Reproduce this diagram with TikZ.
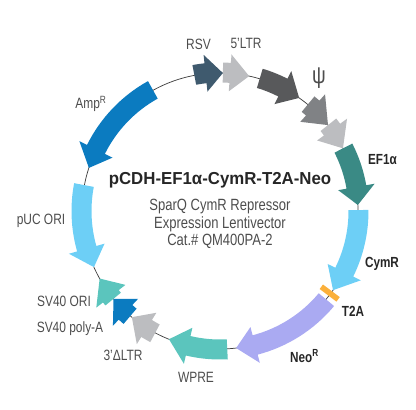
\documentclass[tikz,border=0pt]{standalone}
\usepackage{fontspec}
\setmainfont[FakeStretch=0.8]{Liberation Sans}
\newfontfamily\titlefont[FakeStretch=0.97]{Liberation Sans}
\usetikzlibrary{positioning}

\definecolor{rsvblue}{HTML}{3F5A6E}
\definecolor{ltrgrey}{HTML}{BCBDC0}
\definecolor{psigrey}{HTML}{58595B}
\definecolor{midgrey}{HTML}{808285}
\definecolor{efteal}{HTML}{3A8A85}
\definecolor{skyblue}{HTML}{6DCFF6}
\definecolor{tagorange}{HTML}{FBB03B}
\definecolor{neoviolet}{HTML}{AAAAF2}
\definecolor{aqua}{HTML}{5BC5BD}
\definecolor{deepblue}{HTML}{0B7BC0}
\definecolor{labelgrey}{HTML}{4D4D4D}

% tail angle, angle of head base, tip angle, colour
\newcommand{\featarrow}[4]{%
  \fill[#4] (#1:148.5) arc[start angle=#1, end angle=#2, radius=148.5]
    -- (#2:157) -- (#3:138) -- (#2:120) -- (#2:128.5)
    arc[start angle=#2, end angle=#1, radius=128.5] -- cycle;
}

\begin{document}
\begin{tikzpicture}[
  x=0.75pt, y=0.75pt,
  lab/.style={text=labelgrey, font=\fontsize{11.2}{13}\selectfont, inner sep=0pt},
  blab/.style={text=black!85, font=\fontsize{11}{13}\selectfont\bfseries, inner sep=0pt},
  sub/.style={text=labelgrey, font=\fontsize{12.2}{14}\selectfont, inner sep=0pt}
]
\useasboundingbox (-220,-198) rectangle (196,211);

% backbone
\draw[black!75, line width=0.55pt] (0,0) circle[radius=138];

% features, clockwise from RSV
\featarrow{100.7}{96}{88.8}{rsvblue}
\featarrow{88.8}{85.8}{77.8}{ltrgrey}
\featarrow{73.3}{63}{55}{psigrey}
\featarrow{50.5}{48}{38.5}{midgrey}
\featarrow{38.5}{36}{27}{ltrgrey}
\featarrow{27}{10}{2.5}{efteal}
\featarrow{0.4}{-26.2}{-35}{skyblue}
\featarrow{-39.8}{-75.3}{-83.3}{neoviolet}
\featarrow{-87}{-103.3}{-111.7}{aqua}
\featarrow{-118}{-122}{-129.7}{ltrgrey}
\featarrow{-140.5}{-142}{-150.7}{aqua}
\featarrow{-130.5}{-133}{-140.5}{deepblue}
\featarrow{-190.8}{-164.2}{-156}{skyblue}
\featarrow{119}{153.6}{161.8}{deepblue}
\draw[tagorange, line width=4.2pt] (-36.8:126.5) -- (-36.8:147.5);

% labels
\node[blab, font=\fontsize{13}{16}\titlefont\bfseries] (title) at (0,31) {pCDH-EF1α-CymR-T2A-Neo};
\node[sub] (line1) at (0,4) {SparQ CymR Repressor};
\node[sub] (line2) at (0,-13) {Expression Lentivector};
\node[sub] (line3) at (0,-30) {Cat.\# QM400PA-2};

\node[lab] (rsv) at (-21.5,167) {RSV};
\node[lab] (ltrfive) at (26,168) {5'LTR};
\node[lab, font=\fontsize{18}{20}\selectfont] (psi) at (99,133) {ψ};
\node[blab] (ef) at (162.5,51) {EF1α};
\node[blab] (cymr) at (162,-53) {CymR};
\node[blab] (tag) at (133,-100) {T2A};
\node[blab] (neo) at (84.5,-145) {Neo\textsuperscript{R}};
\node[lab] (wpre) at (-24,-166.5) {WPRE};
\node[lab] (ltrthree) at (-97,-144) {3'ΔLTR};
\node[lab] (polya) at (-150,-118) {SV40 poly-A};
\node[lab] (svori) at (-156,-90) {SV40 ORI};
\node[lab] (puc) at (-179,-10) {pUC ORI};
\node[lab] (amp) at (-129,107) {Amp\textsuperscript{R}};
\end{tikzpicture}
\end{document}
